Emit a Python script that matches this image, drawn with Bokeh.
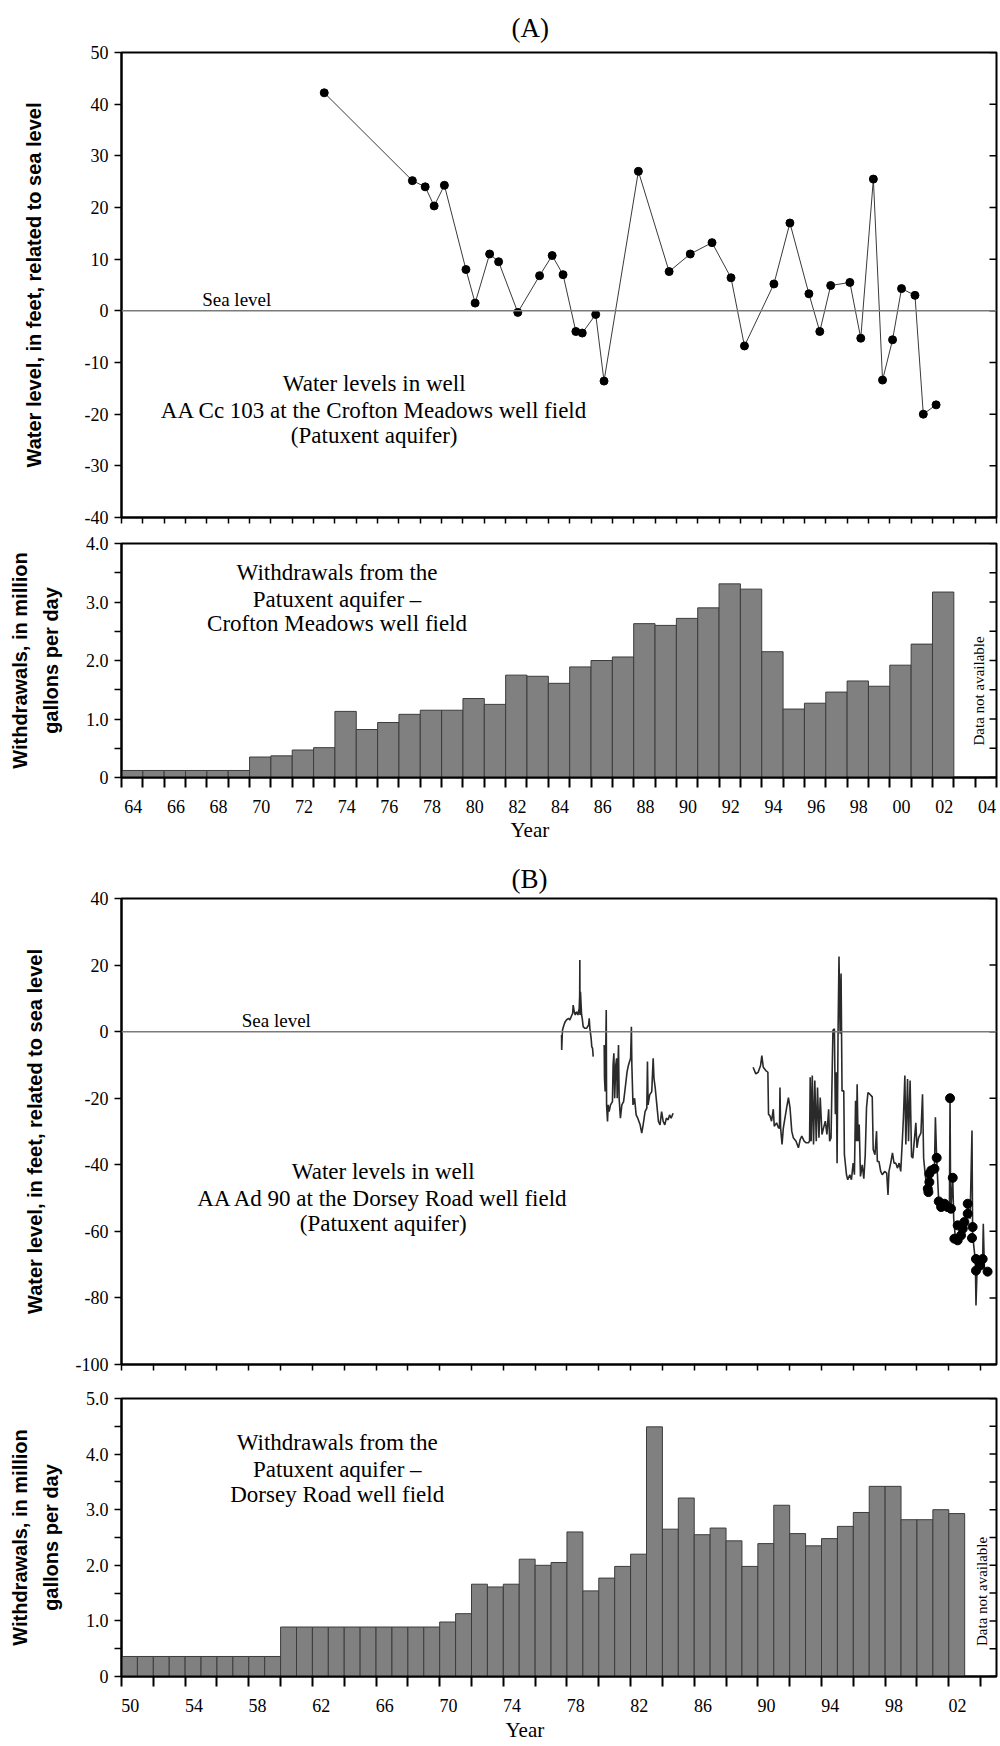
import math
from bokeh.plotting import figure
from bokeh.layouts import column
from bokeh.models import (Range1d, LinearAxis, FixedTicker, CustomJSTickFormatter,
                          Label, Span, Title)
from bokeh.embed import file_html
from bokeh.resources import INLINE

SERIF = "Liberation Serif"
SANS = "Liberation Sans"

# ---------------- Panel A : Crofton Meadows ----------------
A_LEVEL_YEARS = [1973.50, 1977.63, 1978.23, 1978.65, 1979.13, 1980.14, 1980.57, 1981.25,
                 1981.67, 1982.57, 1983.59, 1984.18, 1984.69, 1985.29, 1985.59, 1986.22,
                 1986.61, 1988.22, 1989.66, 1990.65, 1991.67, 1992.56, 1993.19, 1994.57,
                 1995.32, 1996.21, 1996.72, 1997.23, 1998.13, 1998.64, 1999.23, 1999.66,
                 2000.13, 2000.55, 2001.18, 2001.57, 2002.17]
A_LEVELS = [42.2, 25.2, 24.0, 20.3, 24.3, 8.0, 1.5, 11.0,
            9.5, -0.3, 6.8, 10.7, 7.0, -4.0, -4.3, -0.7,
            -13.6, 27.0, 7.6, 11.0, 13.2, 6.4, -6.8, 5.2,
            17.0, 3.3, -4.0, 4.9, 5.5, -5.3, 25.5, -13.4,
            -5.6, 4.3, 3.0, -20.0, -18.2]

A_BAR_YEARS = list(range(1964, 2003))
A_WITHDRAWALS = [0.12, 0.12, 0.12, 0.12, 0.12, 0.12,
                 0.35, 0.37, 0.47, 0.51, 1.13, 0.82, 0.94, 1.08, 1.15, 1.15,
                 1.35, 1.25, 1.75, 1.73, 1.61, 1.89, 2.00, 2.06, 2.63, 2.60,
                 2.72, 2.90, 3.31, 3.22, 2.15, 1.17, 1.27, 1.46, 1.65, 1.56,
                 1.92, 2.28, 3.17]
A_X_RANGE = (1964, 2005)
A_LABEL_YEARS = [1964, 1966, 1968, 1970, 1972, 1974, 1976, 1978, 1980, 1982, 1984,
                 1986, 1988, 1990, 1992, 1994, 1996, 1998, 2000, 2002, 2004]
A_TICK_YEARS = list(range(1964, 2006))
A_LEVEL_TICKS = [-40, -30, -20, -10, 0, 10, 20, 30, 40, 50]
A_RATE_TICKS = [0, 1, 2, 3, 4]
A_RATE_MINOR = [0.5, 1.5, 2.5, 3.5]

# ---------------- Panel B : Dorsey Road ----------------
B_SEG1_YEARS = [1977.66, 1977.67, 1977.70, 1977.72, 1977.81, 1977.89, 1977.97, 1978.10,
                1978.18, 1978.31, 1978.36, 1978.39, 1978.46, 1978.52, 1978.60, 1978.69,
                1978.77, 1978.80, 1978.81, 1978.82, 1978.85, 1978.92, 1978.96, 1979.02,
                1979.13, 1979.23, 1979.36, 1979.40, 1979.44, 1979.52, 1979.56, 1979.61,
                1979.65]
B_SEG1_LEVELS = [-1, -5.5, -1.5, 0.5, 2, 3, 3.5, 4,
                 3.5, 5, 5.5, 8, 6, 5, 6, 5,
                 7, 11, 21.5, 5, 12, 5, 4, 1.5,
                 1, 1, 2, 4, 1, -2, -4.5, -5,
                 -7.5]
B_SEG2_YEARS = [1980.34, 1980.36, 1980.40, 1980.45, 1980.47, 1980.49, 1980.55, 1980.59, 1980.65, 1980.74,
                1980.86, 1980.90, 1980.95, 1981.00, 1981.07, 1981.12, 1981.16, 1981.24, 1981.28, 1981.36,
                1981.45, 1981.56, 1981.66, 1981.78, 1981.87, 1982.00, 1982.05, 1982.08, 1982.15, 1982.25,
                1982.35, 1982.45, 1982.60, 1982.70, 1982.79, 1982.91, 1983.02, 1983.06, 1983.10, 1983.20,
                1983.33, 1983.42, 1983.47, 1983.55, 1983.65, 1983.75, 1983.85, 1983.95, 1984.05, 1984.15,
                1984.25, 1984.36, 1984.45, 1984.55, 1984.67]
B_SEG2_LEVELS = [-4, -14, -18, -1, 6.5, -22, -27, -22, -24, -22,
                 -21, -10, -6.5, -20, -10, -8, -20, -4, -20, -26,
                 -22, -21, -17, -12, -10, -8, 1.5, -10, -22, -20,
                 -25, -26, -28, -30.5, -28, -24, -23, -9, -22, -19,
                 -18, -8, -14, -17, -22, -27, -28, -24, -27, -28,
                 -26, -26.5, -25, -26, -24.5]
B_SEG3_YEARS = [1989.70, 1989.87, 1990.02, 1990.17, 1990.25, 1990.34, 1990.50, 1990.63, 1990.67, 1990.76,
                1990.86, 1990.97, 1991.03, 1991.18, 1991.29, 1991.36, 1991.39, 1991.43, 1991.52, 1991.60,
                1991.81, 1991.92, 1992.02, 1992.13, 1992.23, 1992.40, 1992.55, 1992.66, 1992.76, 1992.91,
                1993.04, 1993.18, 1993.25, 1993.29, 1993.35, 1993.42, 1993.50, 1993.58, 1993.67, 1993.75,
                1993.84, 1993.92, 1994.03, 1994.13, 1994.24, 1994.34, 1994.45, 1994.51, 1994.60, 1994.68,
                1994.72, 1994.81, 1994.87, 1994.93, 1994.98, 1995.04, 1995.10, 1995.17, 1995.23, 1995.29,
                1995.40, 1995.44, 1995.57, 1995.65, 1995.78, 1995.88, 1995.99, 1996.07, 1996.14, 1996.20,
                1996.24, 1996.30, 1996.37, 1996.45, 1996.56, 1996.66, 1996.75, 1996.83, 1996.92, 1997.04,
                1997.19, 1997.25, 1997.36, 1997.46, 1997.51, 1997.61, 1997.72, 1997.82, 1997.97, 1998.10,
                1998.18, 1998.24, 1998.35, 1998.46, 1998.56, 1998.67, 1998.77, 1998.88, 1998.98, 1999.09,
                1999.15, 1999.24, 1999.30, 1999.41, 1999.47, 1999.57, 1999.66, 1999.74, 1999.83, 1999.93,
                2000.00, 2000.10, 2000.25, 2000.35, 2000.42, 2000.52, 2000.63, 2000.68, 2000.71, 2000.89,
                2001.10, 2001.16, 2001.24, 2001.37, 2001.62, 2001.93, 2002.04, 2002.08, 2002.12, 2002.25,
                2002.31, 2002.42, 2002.63, 2002.83, 2003.04, 2003.19, 2003.34, 2003.46, 2003.50, 2003.67,
                2003.71, 2003.78, 2003.96, 2004.13, 2004.17, 2004.24, 2004.44]
B_SEG3_LEVELS = [-10.7, -12.7, -12.2, -10.2, -7.2, -10.7, -11.7, -12.2, -24.8, -25.3,
                 -26.9, -23.3, -28.4, -27.4, -28.9, -29.0, -16.8, -28.9, -33.9, -29.0,
                 -22.8, -19.8, -22.8, -29.9, -31.9, -32.9, -34.9, -32.4, -31.4, -32.9,
                 -33.4, -33.4, -32.9, -13.7, -32.9, -13.2, -33.9, -14.7, -32.9, -16.8,
                 -31.9, -19.8, -30.9, -28.9, -26.9, -30.9, -23.3, -32.9, -31.9, -9.7,
                 0.4, 0.9, -24.8, -12.2, -39.5, -0.6, 22.6, -0.6, 17.5, -17.8,
                 -17.8, -36.9, -43.0, -44.5, -43.0, -44.5, -39.5, -43.0, -20.8, -32.9,
                 -15.8, -32.9, -27.9, -43.5, -40.0, -44.2, -37.0, -22.8, -18.3, -18.8,
                 -19.6, -35.4, -37.0, -29.9, -39.0, -39.0, -42.0, -43.0, -42.0, -42.5,
                 -49.1, -42.0, -39.5, -36.4, -39.5, -39.5, -41.0, -39.5, -42.0, -31.9,
                 -25.8, -13.2, -33.9, -14.2, -32.9, -14.7, -37.5, -38.0, -32.9, -27.4,
                 -34.9, -31.9, -30.4, -18.8, -38.0, -43.0, -47.0, -47.2, -49.1, -42.2,
                 -40.7, -25.7, -38.2, -51.2, -52.2, -52.7, -53.7, -20.0, -54.2, -44.2,
                 -56.2, -62.2, -62.7, -59.7, -57.2, -52.2, -56.2, -29.7, -61.2, -68.7,
                 -82.3, -71.3, -69.8, -68.7, -57.7, -71.3, -72.1]
B_DOT_YEARS = [2000.68, 2000.72, 2000.78, 2000.78, 2000.90, 2001.10, 2001.24, 2001.37, 2001.52, 2001.73,
               2001.93, 2002.08, 2002.14, 2002.25, 2002.35, 2002.56, 2002.56, 2002.77, 2002.88, 2002.98,
               2003.19, 2003.19, 2003.46, 2003.50, 2003.71, 2003.71, 2003.96, 2004.13, 2004.44]
B_DOT_LEVELS = [-47.2, -48.2, -45.2, -42.7, -41.7, -41.2, -37.9, -51.0, -52.7, -51.7,
                -52.7, -20.0, -53.2, -43.9, -62.2, -62.7, -58.2, -61.2, -59.2, -57.2,
                -54.7, -51.7, -62.0, -58.7, -68.3, -71.8, -70.3, -68.3, -72.1]

B_BAR_YEARS = list(range(1950, 2003))
B_WITHDRAWALS = [0.36, 0.36, 0.36, 0.36, 0.36, 0.36, 0.36, 0.36, 0.36, 0.36,
                 0.89, 0.89, 0.89, 0.89, 0.89, 0.89, 0.89, 0.89, 0.89, 0.89,
                 0.98, 1.13, 1.66, 1.61, 1.66, 2.11, 2.00, 2.05, 2.60, 1.54,
                 1.77, 1.98, 2.20, 4.49, 2.65, 3.21, 2.55, 2.67, 2.44, 1.98,
                 2.39, 3.08, 2.57, 2.35, 2.48, 2.70, 2.95, 3.42, 3.42, 2.82,
                 2.82, 3.00, 2.93]
B_X_RANGE = (1950, 2005)
B_LABEL_YEARS = [1950, 1954, 1958, 1962, 1966, 1970, 1974, 1978, 1982, 1986, 1990,
                 1994, 1998, 2002]
B_TICK_YEARS = list(range(1950, 2006, 2))
B_LEVEL_TICKS = [-100, -80, -60, -40, -20, 0, 20, 40]
B_RATE_TICKS = [0, 1, 2, 3, 4, 5]
B_RATE_MINOR = [0.5, 1.5, 2.5, 3.5, 4.5]

SEA_LEVEL = 0

LEVEL_LABEL = "Water level, in feet, related to sea level"
WITHDRAW_LABEL = "Withdrawals, in million\ngallons per day"

YEAR_FMT = CustomJSTickFormatter(code="return String(Math.floor(tick) % 100).padStart(2, '0');")
RATE_FMT = CustomJSTickFormatter(code="return tick == 0 ? '0' : tick.toFixed(1);")
LEVEL_FMT = CustomJSTickFormatter(code="return String(tick);")


def base_fig(height, xr, yr, top, bottom):
    p = figure(width=1000, height=height, x_range=Range1d(*xr), y_range=Range1d(*yr),
               output_backend="svg", toolbar_location=None,
               x_axis_location=None, y_axis_location=None,
               min_border_left=121, min_border_right=4,
               min_border_top=top, min_border_bottom=bottom)
    p.grid.visible = False
    p.outline_line_color = "black"
    p.outline_line_width = 2
    p.background_fill_color = "white"
    p.border_fill_color = "white"
    return p


def add_y_axes(p, xr, ticks, minor, label, standoff, fmt, line_height=1.2):
    left = LinearAxis(ticker=FixedTicker(ticks=ticks, minor_ticks=minor), formatter=fmt,
                      axis_line_width=2, axis_line_color="black",
                      major_tick_line_width=1.5, minor_tick_line_width=1.5,
                      major_tick_line_color="black", minor_tick_line_color="black",
                      major_tick_out=7, major_tick_in=0, minor_tick_out=7, minor_tick_in=0,
                      major_label_text_font=SERIF, major_label_text_font_size="18px",
                      major_label_text_color="black", major_label_standoff=6,
                      axis_label=label, axis_label_text_font=SANS,
                      axis_label_text_font_style="bold", axis_label_text_font_size="20px",
                      axis_label_text_color="black", axis_label_standoff=standoff,
                      axis_label_text_line_height=line_height)
    p.add_layout(left, "left")
    # inward ticks on the right edge of the frame
    right_ticks = list(ticks) + list(minor)
    p.ray(x=[xr[1]] * len(right_ticks), y=right_ticks, length=7, length_units="screen",
          angle=math.pi, line_color="black", line_width=1.5)


def add_plain_x_axis(p, ticks):
    ax = LinearAxis(ticker=FixedTicker(ticks=ticks), axis_line_width=2,
                    major_tick_out=6, major_tick_in=0, major_tick_line_width=1.5,
                    minor_tick_out=0, minor_tick_in=0,
                    major_label_text_font_size="1px", major_label_text_color=None,
                    major_label_text_alpha=0, major_label_standoff=0)
    p.add_layout(ax, "below")


def add_year_x_axis(p, label_years, tick_years, year_offset, year_standoff):
    ax = LinearAxis(ticker=FixedTicker(ticks=[y + 0.55 for y in label_years], minor_ticks=tick_years),
                    formatter=YEAR_FMT, axis_line_width=2,
                    major_tick_out=0, major_tick_in=0,
                    minor_tick_out=10, minor_tick_in=0, minor_tick_line_width=2,
                    minor_tick_line_color="black",
                    major_label_text_font=SERIF, major_label_text_font_size="18px",
                    major_label_text_color="black", major_label_standoff=12)
    p.add_layout(ax, "below")
    p.add_layout(Title(text="Year", align="left", offset=year_offset, standoff=year_standoff,
                       vertical_align="top", text_font=SERIF, text_font_size="21px",
                       text_font_style="normal", text_color="black"), "below")


def text(p, x, y, s, size, font=SERIF, baseline="middle", angle=0):
    p.add_layout(Label(x=x, y=y, text=s, text_font=font, text_font_size=size,
                       text_align="center", text_baseline=baseline, angle=angle,
                       text_color="black"))


def panel_title(p, s, offset, standoff):
    p.add_layout(Title(text=s, align="left", offset=offset, standoff=standoff,
                       text_font=SERIF, text_font_size="27px", text_font_style="normal",
                       text_color="black"), "above")


# ---------- Figure 1 : panel A water levels ----------
p1 = base_fig(527, A_X_RANGE, (-40, 50), 52, 10)
panel_title(p1, "(A)", 390, 19)
add_y_axes(p1, A_X_RANGE, A_LEVEL_TICKS, [], LEVEL_LABEL, 37, LEVEL_FMT)
add_plain_x_axis(p1, A_TICK_YEARS)
p1.add_layout(Span(location=SEA_LEVEL, dimension="width", line_color="#7a7a7a", line_width=1.5))
p1.line(A_LEVEL_YEARS, A_LEVELS, line_color="#3a3a3a", line_width=1)
p1.scatter(A_LEVEL_YEARS, A_LEVELS, marker="circle", size=8, fill_color="black", line_color="black")
text(p1, 1969.4, 2.1, "Sea level", "19px")
text(p1, 1975.84, -14.0, "Water levels in well", "23px")
text(p1, 1975.84, -19.2, "AA Cc 103 at the Crofton Meadows well field", "23px")
text(p1, 1975.84, -24.2, "(Patuxent aquifer)", "23px")

# ---------- Figure 2 : panel A withdrawals ----------
p2 = base_fig(323, A_X_RANGE, (0, 4), 16, 73)
add_y_axes(p2, A_X_RANGE, A_RATE_TICKS, A_RATE_MINOR, WITHDRAW_LABEL, 21, RATE_FMT, 1.4)
add_year_x_axis(p2, A_LABEL_YEARS, A_TICK_YEARS, 389, 4)
p2.vbar(x=[y + 0.5 for y in A_BAR_YEARS], top=A_WITHDRAWALS, bottom=0, width=1,
        fill_color="#808080", line_color="#3c3c3c", line_width=1)
text(p2, 1974.1, 3.51, "Withdrawals from the", "23px")
text(p2, 1974.1, 3.04, "Patuxent aquifer \u2013", "23px")
text(p2, 1974.1, 2.63, "Crofton Meadows well field", "23px")
text(p2, 2004.16, 1.48, "Data not available", "15px", angle=math.pi / 2)

# ---------- Figure 3 : panel B water levels ----------
p3 = base_fig(524, B_X_RANGE, (-100, 40), 48, 10)
panel_title(p3, "(B)", 390, 9)
add_y_axes(p3, B_X_RANGE, B_LEVEL_TICKS, [], LEVEL_LABEL, 27, LEVEL_FMT)
add_plain_x_axis(p3, B_TICK_YEARS)
p3.add_layout(Span(location=SEA_LEVEL, dimension="width", line_color="#7a7a7a", line_width=1.5))
p3.multi_line([B_SEG1_YEARS, B_SEG2_YEARS, B_SEG3_YEARS],
              [B_SEG1_LEVELS, B_SEG2_LEVELS, B_SEG3_LEVELS],
              line_color="#2a2a2a", line_width=1.6)
p3.scatter(B_DOT_YEARS, B_DOT_LEVELS, marker="circle", size=9, fill_color="black", line_color="black")
text(p3, 1959.73, 3.3, "Sea level", "19px")
text(p3, 1966.45, -42.0, "Water levels in well", "23px")
text(p3, 1966.45, -50.1, "AA Ad 90 at the Dorsey Road well field", "23px")
text(p3, 1966.45, -57.6, "(Patuxent aquifer)", "23px")

# ---------- Figure 4 : panel B withdrawals ----------
p4 = base_fig(372, B_X_RANGE, (0, 5), 24, 70)
add_y_axes(p4, B_X_RANGE, B_RATE_TICKS, B_RATE_MINOR, WITHDRAW_LABEL, 21, RATE_FMT, 1.4)
add_year_x_axis(p4, B_LABEL_YEARS, B_TICK_YEARS, 384, 6)
p4.vbar(x=[y + 0.5 for y in B_BAR_YEARS], top=B_WITHDRAWALS, bottom=0, width=1,
        fill_color="#808080", line_color="#3c3c3c", line_width=1)
text(p4, 1963.56, 4.21, "Withdrawals from the", "23px")
text(p4, 1963.56, 3.73, "Patuxent aquifer \u2013", "23px")
text(p4, 1963.56, 3.27, "Dorsey Road well field", "23px")
text(p4, 2004.1, 1.53, "Data not available", "15px", angle=math.pi / 2)

layout = column(p1, p2, p3, p4, spacing=0)
open("out.html", "w").write(file_html(layout, INLINE))
